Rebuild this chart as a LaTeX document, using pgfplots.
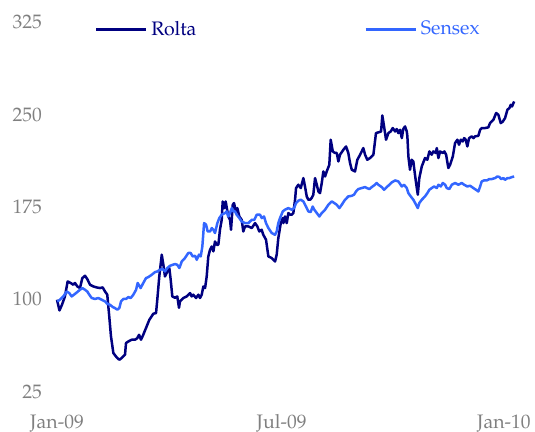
\documentclass[border=0pt]{standalone}
\usepackage{fontspec}
\setmainfont{texgyrepagella-regular.otf}
\usepackage{pgfplots}
\pgfplotsset{compat=1.18}
\usepackage{pgfplotstable}
\definecolor{rolta}{RGB}{0,0,128}
\definecolor{sensex}{RGB}{51,102,255}
\definecolor{ticktxt}{RGB}{128,128,128}

\pgfplotstableread{
d v
0 99.2
2 90.5
4 95.1
6.4 101.9
8.6 114.1
11 112.8
13.1 111.4
14.5 112.8
16.4 110
18.5 108.7
20.4 116.8
22.6 118.7
24.4 116
26.6 111.4
29.3 110
32 109.2
34.6 108.7
36.8 109.2
38.7 105.9
40.5 103.3
42.1 85.6
43.5 69.3
45.4 55.9
48.1 52.3
50.2 50.4
52.1 51.8
54.8 54.5
55.6 64
57.5 65.3
60.2 66.7
62.9 66.7
64.7 68
66.1 70.7
67.7 66.7
69.5 70.7
71.7 76.2
74.4 82.9
77.6 87.8
79.8 88.4
80.8 99.2
82.4 118.1
84.4 135.8
85.7 127.6
87 118.1
88.9 122.2
90.5 125
91.6 115.4
92.9 101.9
95.1 100.8
96.9 101.9
98.3 92.7
99.1 97.8
101.8 100.6
104.5 101.9
107.2 104.6
108.5 101.9
109.8 103.3
112 100.6
113.9 103.3
115.2 100.6
116.6 103.3
117.9 110
119.3 108.7
120.6 118.1
121.9 134.4
123.3 139.8
124.7 142.5
126 138.5
127.3 146.6
128.7 143.9
130 143.9
131.3 156.1
132.7 164.2
133.5 179.1
134.8 173.7
135.9 179.1
138 166.9
139.4 164.2
140.2 156.1
141.6 176.4
142.6 177.8
144.2 171
145.3 173.7
146.9 166.9
148.8 164.2
150.1 154.7
151.5 158.8
154.2 158.8
156.9 157.5
159.6 161.5
161.4 158.8
163 154.7
164.9 156.1
166.2 152
168.4 148
170.3 134.4
173 133.1
175.7 130.3
177 135.8
178.3 149.3
180.3 161.5
181.9 165.6
182.4 161.5
183.7 166.9
185.1 161.5
186.4 169.7
187.8 168.3
189.1 168.3
190.4 169.7
191.8 180.5
192.6 190
194.4 192.7
196.4 190
198.5 198.1
199.8 191.3
201.2 183.2
202.5 180.5
203.9 180.5
205.2 181.9
206.5 184.6
207.9 198.1
209.3 192.7
210.6 187.2
211.9 185.9
213.3 194.1
214.6 203.5
216 199.4
217.3 203.5
219.4 208.9
220.5 229.3
222.2 219.8
224 218.5
225.4 218.5
226.7 211.6
228 217.1
230.7 221.1
232.9 223.8
234.7 218.5
236.1 210.3
237.5 204.9
240.1 203.5
242 213
244.2 217.1
246.8 222.5
248.2 217.1
250 213
252.2 214.4
254.9 217.1
257 234.7
259.7 235.5
261.1 236
262.1 249
263.5 240.1
265.1 229.3
267 234.7
268.9 236
270.5 238.8
272.4 236
273.7 238
275 234.7
276.4 237.4
277.8 230.6
279 238
280.4 240.1
281.8 236
282.3 232
283.1 215.7
284.4 204.9
285.8 213
287.1 211.6
287.9 204.9
289.3 194.1
290.7 184.6
291.9 198.1
293.9 207.6
296.5 214.4
298.4 213
300 219.8
301.9 217.1
303.2 219.8
305.2 218.5
306 222.5
307.3 214.4
308.6 219.8
310.8 218.5
312.1 219.8
313.5 217.1
315.3 206.3
316.7 208.9
318.9 215.7
320.7 226.6
322.6 229.3
323.9 225.2
325.3 229.3
326.9 227.9
328 230.6
329.3 229.3
330.6 223.8
332 230.6
334.2 232
335.5 230.6
336.8 232
339.5 232.5
340.9 237.4
342.2 238.8
344.9 238.8
347.5 239.3
348.9 242.8
351.6 245.5
353.8 251
355.6 249.6
357.5 242.8
359.2 244.1
361 246.9
362.9 253.7
364.5 255
365.6 257.7
366.6 256.3
368.3 260.4
}\roltadata

\pgfplotstableread{
d v
0.2 97.8
2.4 99.2
5.1 101.9
7.8 105.9
9.9 104.6
11.8 101.9
13.7 103.3
15.9 105.1
18.5 107.3
20.4 108.7
22.6 107.3
24.4 105.9
26 103.3
28 100.6
30.6 99.8
33.3 100.6
36 99.2
38.7 97.8
40.5 95.9
42.7 95.1
44.9 93.3
46.7 92.4
48.6 91.1
50.2 92.4
51.6 97.8
53.4 99.8
55.6 99.8
57.5 101.4
59.4 100.6
61.5 103.3
63.7 107.3
65 112.8
66.3 110.6
67.4 108.7
69.5 112.8
71.7 116.8
73.6 117.6
76.3 119.5
79 121.7
80.8 122.2
83 123.6
85.2 124.1
87 122.2
88.9 125
91.1 126.8
93.2 127.6
95.1 128.2
96.9 127.6
98.6 125
99.1 126.3
100.5 130.3
103.1 133.1
105.8 137.2
107.7 137.2
109.3 134.4
111.2 135
112.6 131.7
114.4 135.8
115.8 134.4
117.1 142.5
118.5 161.5
120.1 160.2
121.4 154.7
123.3 154.7
124.7 157.5
126 156.1
127.3 153.4
129.2 161.5
130.8 165.6
132.7 168.3
135.4 169.7
136.7 171
138 166.9
139.4 169.7
140.8 173.7
142.1 171
143.4 171
144.8 168.3
146.9 165.6
148.8 162.8
151.5 161.5
154.2 161.5
156.9 164.2
159 164.2
160.9 168.3
163.6 168.3
165 165.6
166.8 166.9
168.4 161.5
170.3 157.5
173 153.4
175.7 152
177 154.7
178.3 161.5
179.7 165.6
181.9 171
183.7 172.4
186.4 173.7
189.1 172.4
191 173.7
192.6 177.8
194.4 179.7
196.4 180.5
198.5 179.1
200.6 175
202.5 171
204.4 170.5
206 175
207.3 172.4
209.3 169.7
211.4 166.9
213.3 169.7
216 172.4
218.6 176.4
221.4 179.1
223.4 177.8
225.4 176.4
227.5 173.7
229.4 176.4
232.1 180.5
234.7 183.2
237.5 183.7
239.3 184.6
240.9 187.2
242.8 189.2
245.5 190
248.2 190.8
249.6 190
251.7 189.2
253.6 190.8
256.2 192.7
257.6 194.1
258.9 192.7
261.6 190.8
263.5 188.6
265.7 190.8
267.8 192.7
269.7 194.6
272.4 196.2
275 195.4
277.8 191.3
279.6 192.7
281.8 190
283.1 185.9
285 183.2
287.1 180.5
289.3 176.4
290.7 173.7
291.9 177.8
293.9 180.5
296.5 183.2
298.4 185.9
300 188.6
301.9 190
303.8 191.3
306 190
307.3 192.7
309.2 191.3
310.8 194.1
312.7 192.7
314 190
316.1 189.2
318.1 192.7
320.7 194.1
323.4 192.7
326.1 194.1
328 192.7
330.6 191.3
332.8 191.9
335.5 190
337.6 188.6
339.5 187.2
340.9 191.3
342.2 195.4
344.1 196.2
346.3 196.2
348.3 197.3
350.3 197.3
352.9 198.1
354.8 199.4
356.4 199
357.8 197.3
359.6 198.1
361 196.7
362.9 198.1
364.5 198.1
366.4 198.9
368.3 199.4
}\sensexdata

\begin{document}
\fontsize{19.5bp}{23bp}\selectfont
\begin{tikzpicture}
\useasboundingbox (-57bp,-41bp) rectangle (478bp,391bp);
\begin{axis}[
  at={(0,0)}, anchor=south west,
  scale only axis,
  width=458bp, height=369bp,
  xmin=0, xmax=369, ymin=25, ymax=325,
  axis line style={draw=none},
  tick style={draw=none},
  clip=false,
  xtick={0,181,360},
  xticklabels={Jan-09,Jul-09,Jan-10},
  ytick={25,100,175,250,325},
  /pgf/number format/assume math mode=true,
  ticklabel style={font=\fontsize{19.5bp}{23bp}\selectfont, text=ticktxt},
  xticklabel style={anchor=base, inner sep=0pt, yshift=-37bp},
  yticklabel style={anchor=base east, inner sep=0pt, xshift=-15bp, yshift=-7bp},
  legend columns=2,
  legend image code/.code={\draw[#1] (0bp,0bp) -- (50bp,0bp);},
  legend style={draw=none, fill=none, inner sep=0pt, outer sep=0pt,
    at={(0,1)}, anchor=north west, xshift=38bp, yshift=1bp,
    font=\fontsize{19.5bp}{23bp}\selectfont,
    nodes={inner sep=0pt},
    column sep=4bp,
    /tikz/every even column/.append style={column sep=168bp}},
]
\addplot[rolta, line width=2.5bp, line join=round] table[x=d, y=v] {\roltadata};
\addlegendentry{\textcolor{rolta}{Rolta}}
\addplot[sensex, line width=2.5bp, line join=round] table[x=d, y=v] {\sensexdata};
\addlegendentry{\textcolor{sensex}{Sensex}}
\end{axis}
\end{tikzpicture}
\end{document}
